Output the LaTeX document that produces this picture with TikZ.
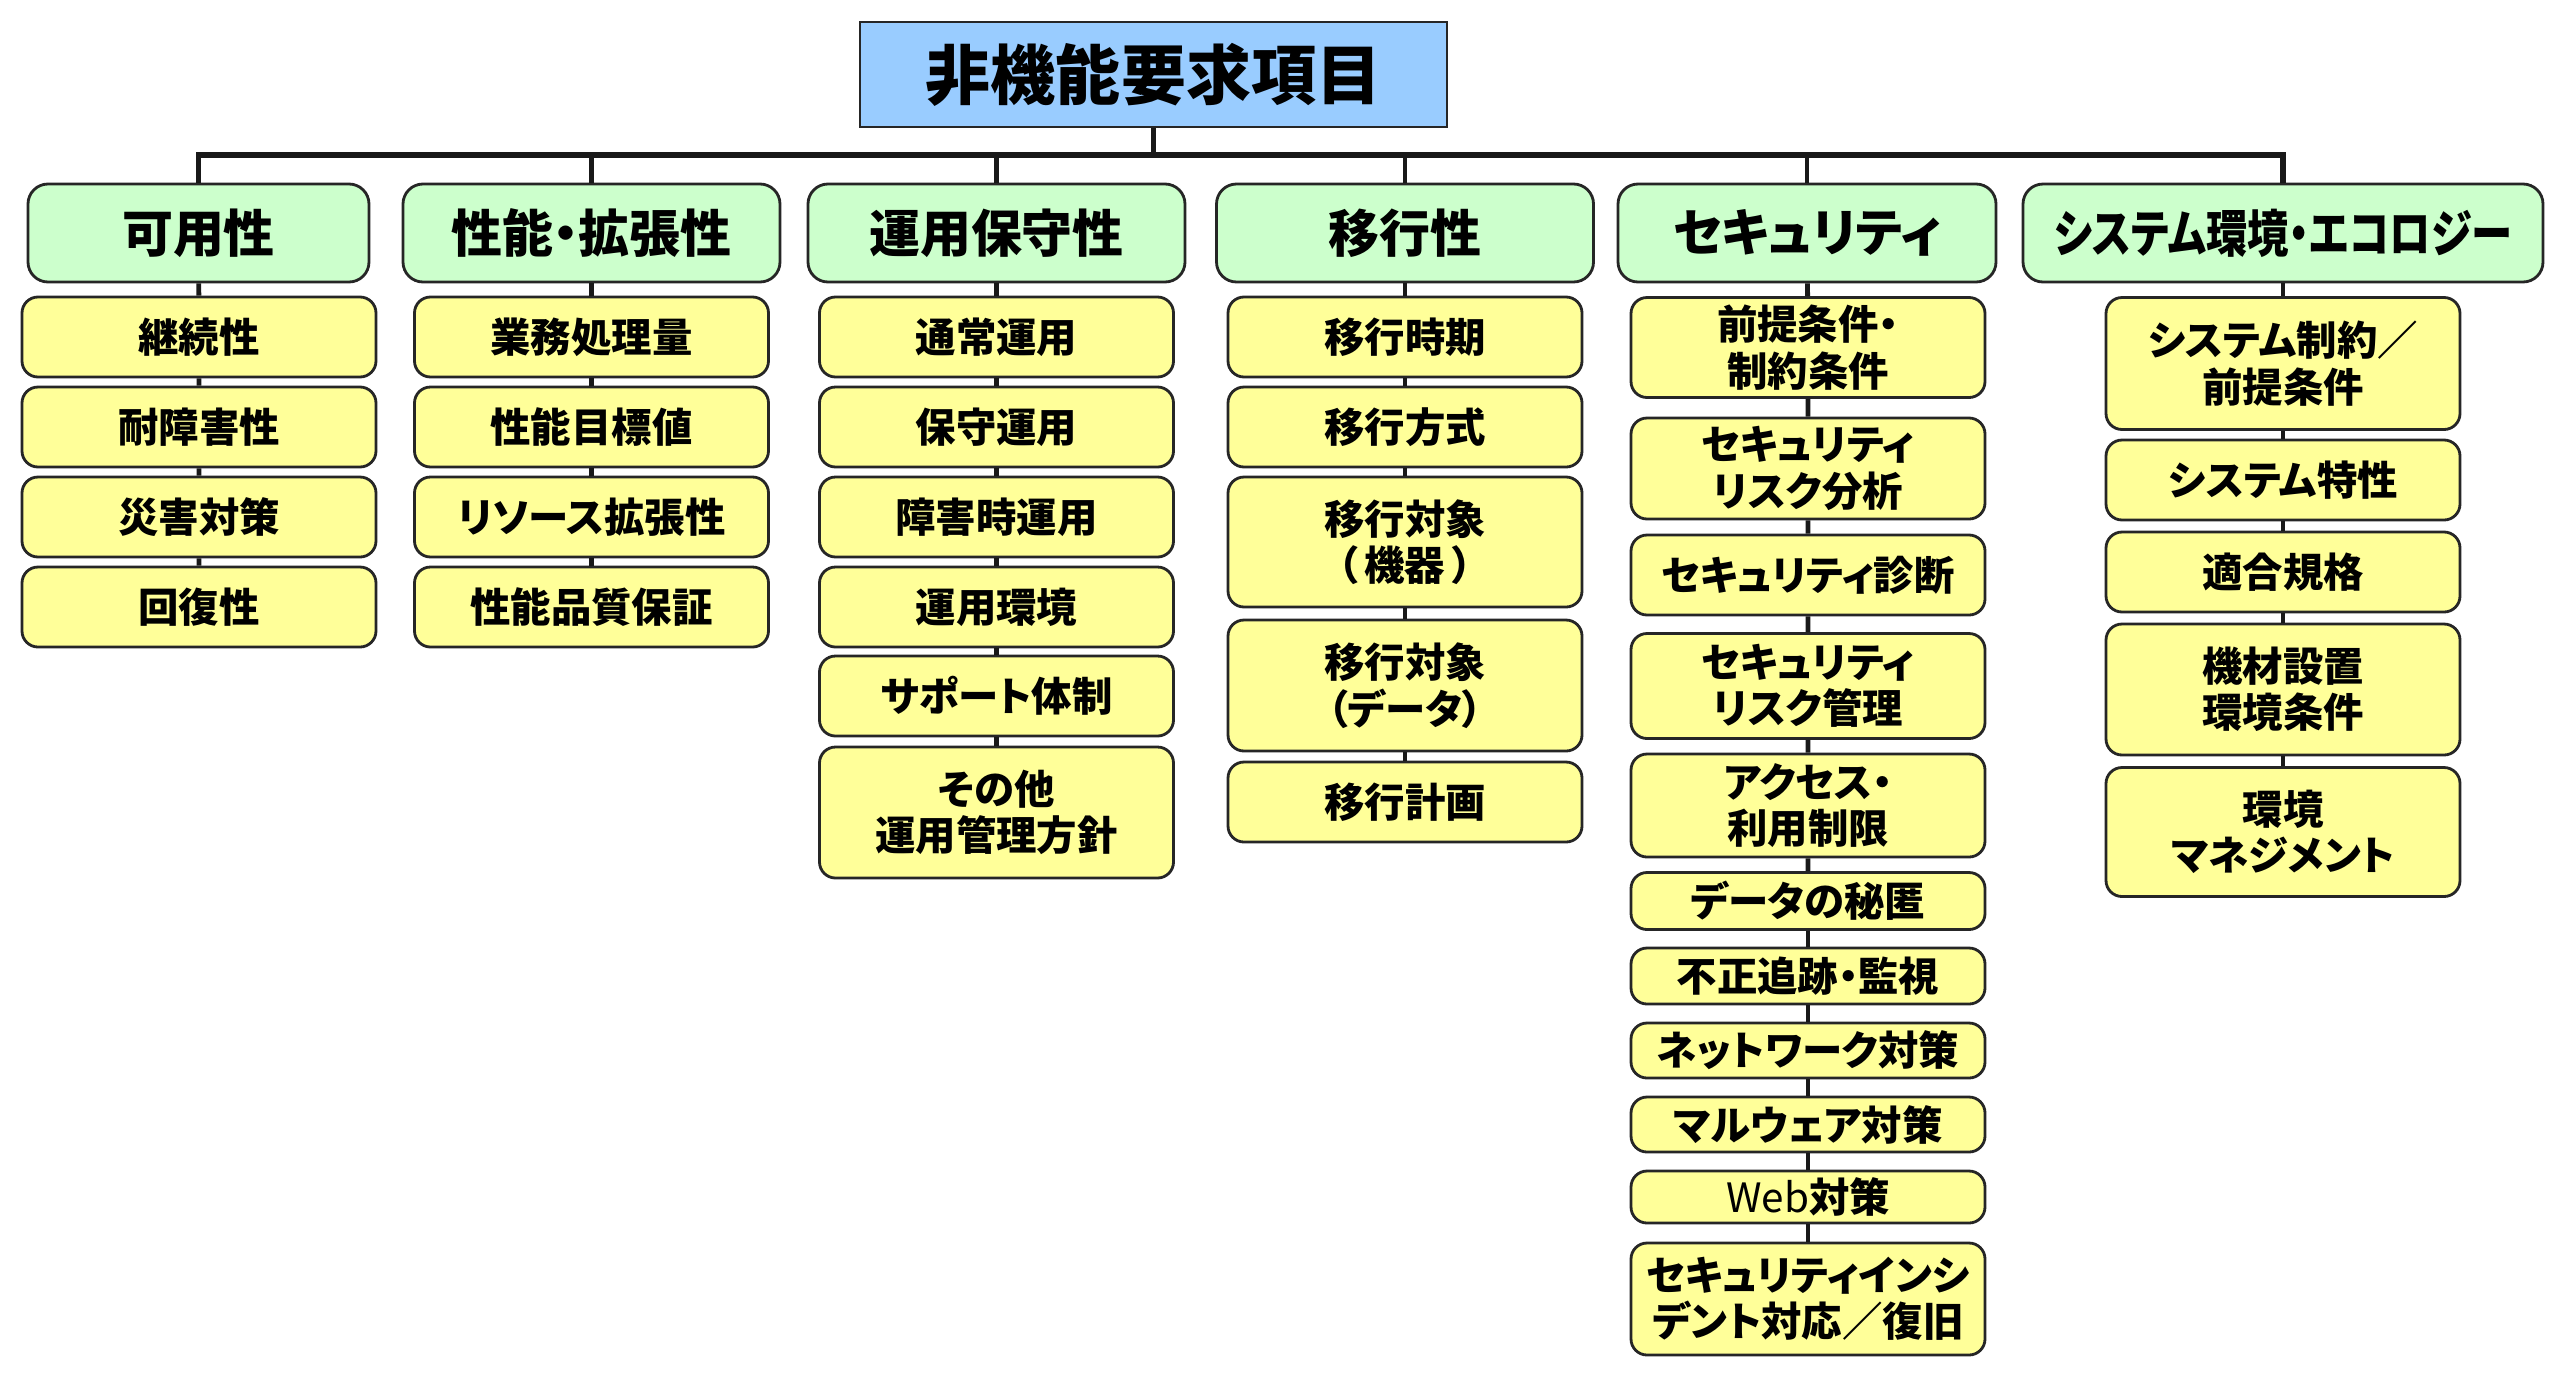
\documentclass[tikz,border=0pt]{standalone}
\usepackage{fontspec}
\setmainfont{Noto Sans CJK JP}[RawFeature=+palt]
\usepackage{tikz}
\definecolor{titleblue}{RGB}{153,204,255}
\definecolor{catgreen}{RGB}{204,255,204}
\definecolor{itemyellow}{RGB}{255,255,153}
\tikzset{top box/.style={draw=black!85,line width=0.8pt,fill=titleblue,inner sep=0,minimum width=5.87cm,minimum height=1.05cm,font=\fontsize{18.5}{22}\selectfont\bfseries}}
\tikzset{cat box/.style={draw=black!85,line width=0.8pt,fill=catgreen,rounded corners=2mm,inner sep=0,minimum height=0.98cm,font=\fontsize{14.5}{17}\selectfont\bfseries}}
\tikzset{item box/.style={draw=black!85,line width=0.8pt,fill=itemyellow,rounded corners=1.6mm,inner sep=0,minimum width=3.54cm,minimum height=0.8cm,align=center,font=\fontsize{11.5}{13.2}\selectfont\bfseries}}
\tikzset{link/.style={draw=black!90,line width=1.4pt}}
\def\two{\\}
\def\narrow#1{\scalebox{0.81}[1]{#1}}

\begin{document}
\begin{tikzpicture}
        \useasboundingbox (0,0) rectangle (25.6,-13.82);

          %非機能要求項目
          \node[top box] (top) at (11.535,-0.745) {非機能要求項目};
          \coordinate (bar) at (0,-1.55);

          %大項目
          \node[cat box, minimum width=3.41cm] (avail) at (1.985,-2.33) {可用性};
          \node[cat box, minimum width=3.77cm] (perf) at (5.915,-2.33) {性能・拡張性};
          \node[cat box, minimum width=3.77cm] (ops) at (9.965,-2.33) {運用保守性};
          \node[cat box, minimum width=3.77cm] (mig) at (14.05,-2.33) {移行性};
          \node[cat box, minimum width=3.78cm] (sec) at (18.07,-2.33) {セキュリティ};
          \node[cat box, minimum width=5.2cm] (env) at (22.83,-2.33) {\narrow{システム環境・エコロジー}};

          %可用性
          \node[item box] (avail1) at (1.99,-3.37) {継続性};
          \node[item box] (avail2) at (1.99,-4.27) {耐障害性};
          \node[item box] (avail3) at (1.99,-5.17) {災害対策};
          \node[item box] (avail4) at (1.99,-6.07) {回復性};

          %性能・拡張性
          \node[item box] (perf1) at (5.915,-3.37) {業務処理量};
          \node[item box] (perf2) at (5.915,-4.27) {性能目標値};
          \node[item box] (perf3) at (5.915,-5.17) {リソース拡張性};
          \node[item box] (perf4) at (5.915,-6.07) {性能品質保証};

          %運用保守性
          \node[item box] (ops1) at (9.965,-3.37) {通常運用};
          \node[item box] (ops2) at (9.965,-4.27) {保守運用};
          \node[item box] (ops3) at (9.965,-5.17) {障害時運用};
          \node[item box] (ops4) at (9.965,-6.07) {運用環境};
          \node[item box] (ops5) at (9.965,-6.96) {サポート体制};
          \node[item box, minimum height=1.31cm] (ops6) at (9.965,-8.125) {その他\two 運用管理方針};

          %移行性
          \node[item box] (mig1) at (14.05,-3.37) {移行時期};
          \node[item box] (mig2) at (14.05,-4.27) {移行方式};
          \node[item box, minimum height=1.3cm] (mig3) at (14.05,-5.42) {移行対象\two （\,機器\,）};
          \node[item box, minimum height=1.31cm] (mig4) at (14.05,-6.855) {移行対象\two （データ）};
          \node[item box] (mig5) at (14.05,-8.02) {移行計画};

          %セキュリティ
          \node[item box, minimum height=1cm] (sec1) at (18.08,-3.475) {前提条件・\two 制約条件};
          \node[item box, minimum height=1.01cm] (sec2) at (18.08,-4.685) {セキュリティ\two リスク分析};
          \node[item box] (sec3) at (18.08,-5.75) {セキュリティ診断};
          \node[item box, minimum height=1.05cm] (sec4) at (18.08,-6.86) {セキュリティ\two リスク管理};
          \node[item box, minimum height=1.03cm] (sec5) at (18.08,-8.055) {アクセス・\two 利用制限};
          \node[item box, minimum height=0.57cm] (sec6) at (18.08,-9.01) {データの秘匿};
          \node[item box, minimum height=0.56cm] (sec7) at (18.08,-9.76) {不正追跡・監視};
          \node[item box, minimum height=0.55cm] (sec8) at (18.08,-10.505) {ネットワーク対策};
          \node[item box, minimum height=0.55cm] (sec9) at (18.08,-11.245) {マルウェア対策};
          \node[item box, minimum height=0.52cm] (sec10) at (18.08,-11.97) {{\mdseries Web}対策};
          \node[item box, minimum height=1.12cm] (sec11) at (18.08,-12.99) {セキュリティインシ\two デント対応／復旧};

          %システム環境・エコロジー
          \node[item box, minimum height=1.32cm] (env1) at (22.83,-3.635) {システム制約／\two 前提条件};
          \node[item box] (env2) at (22.83,-4.8) {システム特性};
          \node[item box] (env3) at (22.83,-5.72) {適合規格};
          \node[item box, minimum height=1.31cm] (env4) at (22.83,-6.895) {機材設置\two 環境条件};
          \node[item box, minimum height=1.29cm] (env5) at (22.83,-8.32) {環境\two マネジメント};

          %横の線
          \draw[link, line width=1.6pt] (avail) |- (top |- bar) -| (env);
          \draw[link] (top) -- (top |- bar);
          \draw[link] (perf.north |- bar) -- (perf);
          \draw[link] (ops.north |- bar) -- (ops);
          \draw[link] (mig.north |- bar) -- (mig);
          \draw[link] (sec.north |- bar) -- (sec);

          %縦の線
          \draw[link] (avail) -- (avail1) (avail1) -- (avail2) (avail2) -- (avail3) (avail3) -- (avail4);
          \draw[link] (perf) -- (perf1) (perf1) -- (perf2) (perf2) -- (perf3) (perf3) -- (perf4);
          \draw[link] (ops) -- (ops1) (ops1) -- (ops2) (ops2) -- (ops3) (ops3) -- (ops4) (ops4) -- (ops5) (ops5) -- (ops6);
          \draw[link] (mig) -- (mig1) (mig1) -- (mig2) (mig2) -- (mig3) (mig3) -- (mig4) (mig4) -- (mig5);
          \draw[link] (sec) -- (sec1) (sec1) -- (sec2) (sec2) -- (sec3) (sec3) -- (sec4) (sec4) -- (sec5) (sec5) -- (sec6);
          \draw[link] (sec6) -- (sec7) (sec7) -- (sec8) (sec8) -- (sec9) (sec9) -- (sec10) (sec10) -- (sec11);
          \draw[link] (env) -- (env1) (env1) -- (env2) (env2) -- (env3) (env3) -- (env4) (env4) -- (env5);

        \end{tikzpicture}
\end{document}
